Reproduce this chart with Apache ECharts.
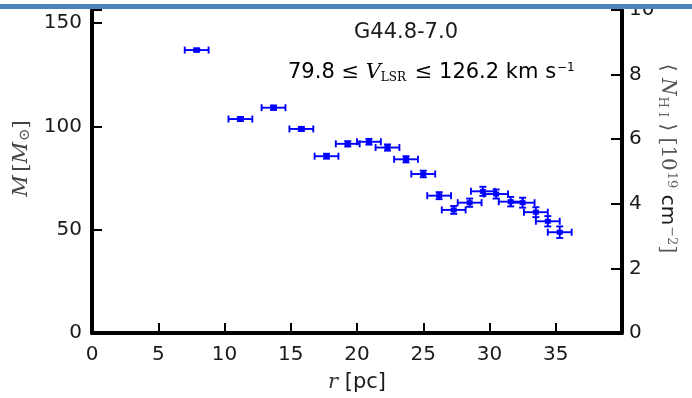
<!DOCTYPE html>
<html>
<head>
<meta charset="utf-8">
<script src="https://cdn.jsdelivr.net/npm/echarts@6/dist/echarts.min.js"></script>
<style>
html,body{margin:0;padding:0;background:#fff;}
#chart{width:692px;height:398px;}
</style>
</head>
<body>
<div id="chart"></div>
<script>
// Data
const radius    = [7.9, 11.2, 13.7, 15.8, 17.7, 19.3, 20.9, 22.3, 23.7, 25.0, 26.2, 27.3, 28.5, 29.5, 30.5, 31.6, 32.5, 33.5, 34.4, 35.3];
const mass      = [137.0, 103.6, 109.1, 98.8, 85.6, 91.6, 92.6, 89.8, 84.1, 77.0, 66.5, 59.6, 63.1, 68.6, 67.3, 63.6, 63.1, 58.5, 54.1, 48.8];
const radiusErr = [0.9, 0.9, 0.9, 0.9, 0.9, 0.9, 0.9, 0.9, 0.9, 0.9, 0.9, 0.9, 0.9, 0.9, 0.9, 0.9, 0.9, 0.9, 0.9, 0.9];
const massErr   = [0.8, 1.0, 1.1, 1.0, 1.2, 1.3, 1.4, 1.5, 1.5, 1.6, 1.7, 1.9, 2.0, 2.2, 2.2, 2.3, 2.4, 2.4, 2.5, 2.8];
const xTicks = [0, 5, 10, 15, 20, 25, 30, 35];
const leftTicks = [0, 50, 100, 150];
const rightTicks = [0, 2, 4, 6, 8, 10];

const sourceName = 'G44.8-7.0';

const data = radius.map((r, i) => [r, mass[i], radiusErr[i], massErr[i]]);

const BLUE = '#0000ff';
function renderItem(params, api) {
  const x = api.value(0), y = api.value(1), ex = api.value(2), ey = api.value(3);
  const c = api.coord([x, y]);
  const l = api.coord([x - ex, y]);
  const r = api.coord([x + ex, y]);
  const t = api.coord([x, y + ey]);
  const b = api.coord([x, y - ey]);
  const cap = 3.5;
  const st = {stroke: BLUE, lineWidth: 1.9};
  const ln = (x1, y1, x2, y2) => ({type: 'line', shape: {x1, y1, x2, y2}, style: st});
  return {
    type: 'group',
    children: [
      ln(l[0], l[1], r[0], r[1]),
      ln(l[0], l[1] - cap, l[0], l[1] + cap),
      ln(r[0], r[1] - cap, r[0], r[1] + cap),
      ln(t[0], t[1], b[0], b[1]),
      ln(t[0] - cap, t[1], t[0] + cap, t[1]),
      ln(b[0] - cap, b[1], b[0] + cap, b[1]),
      {type: 'rect', shape: {x: c[0] - 3, y: c[1] - 2.5, width: 6, height: 5}, style: {fill: BLUE}}
    ]
  };
}

const SANS = 'DejaVu Sans';
const SERIF = 'DejaVu Serif';
const TXT = '#1a1a1a';

const chart = echarts.init(document.getElementById('chart'), null, {renderer: 'canvas'});
chart.setOption({
  animation: false,
  backgroundColor: '#ffffff',
  grid: {left: 92, right: 70, top: 10, bottom: 65, containLabel: false},
  xAxis: {
    type: 'value', min: 0, max: 40, interval: 5,
    axisLine: {show: true, onZero: false, lineStyle: {color: '#000', width: 4}},
    axisTick: {show: true, inside: true, length: 10, lineStyle: {color: '#000', width: 2}},
    splitLine: {show: false},
    axisLabel: {
      margin: 12, fontFamily: SANS, fontSize: 20, color: TXT,
      formatter: v => xTicks.includes(v) ? String(v) : ''
    },
    name: '{i|r}  {n|[pc]}',
    nameLocation: 'middle', nameGap: 39,
    nameTextStyle: {
      rich: {
        i: {fontFamily: SERIF, fontStyle: 'italic', fontSize: 21, color: '#333'},
        n: {fontFamily: SANS, fontSize: 21, color: TXT}
      }
    }
  },
  yAxis: [
    {
      type: 'value', min: 0, max: 156.4, interval: 50, position: 'left',
      axisLine: {show: true, onZero: false, lineStyle: {color: '#000', width: 4}},
      axisTick: {show: true, inside: true, length: 10, lineStyle: {color: '#000', width: 2}},
      splitLine: {show: false},
      axisLabel: {
        margin: 10, fontFamily: SANS, fontSize: 20, color: TXT,
        formatter: v => leftTicks.includes(v) ? String(v) : ''
      },
      name: '{i|M} {n|[}{i|M}{sub|⊙}{n|]}',
      nameLocation: 'middle', nameGap: 56, nameRotate: 90,
      nameTextStyle: {
        padding: [0, 0, 0, 26],
        rich: {
          i: {fontFamily: SERIF, fontStyle: 'italic', fontSize: 21, color: '#444'},
          n: {fontFamily: SERIF, fontSize: 21, color: '#444'},
          sub: {fontFamily: SERIF, fontSize: 15, color: '#555', verticalAlign: 'bottom', padding: [8, 0, 0, 1]}
        }
      }
    },
    {
      type: 'value', min: 0, max: 10, interval: 2, position: 'right',
      axisLine: {show: true, onZero: false, lineStyle: {color: '#000', width: 4}},
      axisTick: {show: true, inside: true, length: 11, lineStyle: {color: '#000', width: 2}},
      splitLine: {show: false},
      axisLabel: {
        margin: 7, fontFamily: SANS, fontSize: 20, color: TXT,
        formatter: v => rightTicks.includes(v) ? String(v) : ''
      },
      name: '{n|⟨ }{i|N}{sub|H I}{n| ⟩ [10}{sup|19}{s| cm}{sup|−2}{n|]}',
      nameLocation: 'middle', nameGap: 34, nameRotate: -90,
      nameMoveOverlap: false,
      nameTextStyle: {
        padding: [0, 26, 0, 0],
        rich: {
          i: {fontFamily: SERIF, fontStyle: 'italic', fontSize: 20, color: '#555'},
          n: {fontFamily: SERIF, fontSize: 20, color: '#555'},
          s: {fontFamily: SANS, fontSize: 20, color: TXT},
          sub: {fontFamily: SERIF, fontSize: 13, color: '#666', padding: [9, 0, 0, 1]},
          sup: {fontFamily: SERIF, fontSize: 13, color: '#666', padding: [0, 0, 9, 1]}
        }
      }
    }
  ],
  series: [{
    type: 'custom',
    name: sourceName,
    coordinateSystem: 'cartesian2d',
    xAxisIndex: 0, yAxisIndex: 0,
    encode: {x: 0, y: 1},
    renderItem: renderItem,
    data: data,
    clip: false
  }],
  graphic: [
    {
      type: 'text', left: 410 - 56, top: 22, z: 10,
      style: {text: sourceName, font: '21px "DejaVu Sans"', fill: TXT}
    },
    {
      type: 'text', left: 288, top: 62, z: 10,
      style: {
        text: '{n|79.8 }{m|≤ }{i|V}{sub|LSR}{m| ≤ }{n|126.2 km s}{sup|−1}',
        rich: {
          n: {fontFamily: SANS, fontSize: 21, color: TXT},
          m: {fontFamily: SERIF, fontSize: 21, color: '#666'},
          i: {fontFamily: SERIF, fontStyle: 'italic', fontSize: 21, color: '#444'},
          sub: {fontFamily: SERIF, fontSize: 12, color: '#555', padding: [10, 2, 0, 0]},
          sup: {fontFamily: SANS, fontSize: 12, color: '#333', padding: [0, 0, 10, 1]}
        }
      }
    },
    {type: 'rect', left: 0, top: 0, z: 100, shape: {width: 692, height: 4}, style: {fill: '#ffffff'}},
    {type: 'rect', left: 0, top: 4, z: 101, shape: {width: 692, height: 5}, style: {fill: '#4f81bd'}}
  ]
});
</script>
</body>
</html>
